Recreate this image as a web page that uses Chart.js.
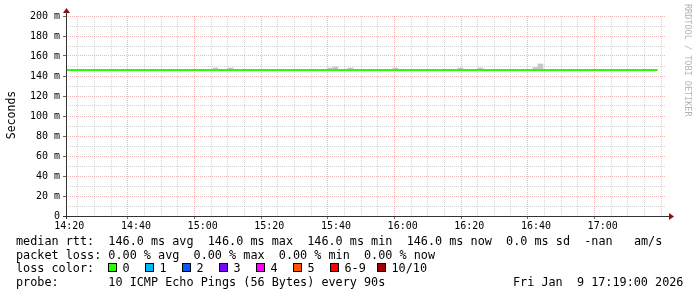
<!DOCTYPE html>
<html lang="en">
  <head>
    <meta charset="UTF-8" />
    <title>SmokePing RTT</title>
    <script src="https://cdn.jsdelivr.net/npm/chart.js"></script>
    <style>
      body {
        margin: 0;
        background: #ffffff;
      }
      #chart {
        display: block;
      }
    </style>
  </head>
  <body>
    <canvas id="chart" width="697" height="297"></canvas>

    <script>
      // time window of the graph (HH:MM:SS)
      const xStart = "14:19:00";
      const xEnd = "17:19:00";
      const xMajorLabels = ["14:20", "14:40", "15:00", "15:20", "15:40", "16:00", "16:20", "16:40", "17:00"];
      const yTickLabels = ["0", "20 m", "40 m", "60 m", "80 m", "100 m", "120 m", "140 m", "160 m", "180 m", "200 m"];

      // median rtt (ms), flat the whole time
      const medianTimes = ["14:19:00", "17:16:30"];
      const medianValues = [146, 146];

      // smoke (spread of the pings) where it shows above the median
      const smokeTimes = ["15:03:50", "15:08:20", "15:38:20", "15:39:50", "15:44:20", "15:57:50", "16:17:20", "16:23:20", "16:39:50", "16:41:20"];
      const smokeLow = [146, 146, 146, 146, 146, 146, 146, 146, 146, 146];
      const smokeHigh = [148, 148, 148, 149, 148, 148, 148, 148, 148.5, 152];

      const statsLine = "median rtt:  146.0 ms avg  146.0 ms max  146.0 ms min  146.0 ms now  0.0 ms sd  -nan   am/s";
      const lossLine = "packet loss: 0.00 % avg  0.00 % max  0.00 % min  0.00 % now";
      const lossLabels = ["0", "1", "2", "3", "4", "5", "6-9", "10/10"];
      const lossColors = ["#26ff00", "#00b8ff", "#0059ff", "#7e00ff", "#ff00ff", "#ff5500", "#ff0000", "#a10000"];
      const probeLine = "probe:       10 ICMP Echo Pings (56 Bytes) every 90s";
      const dateLine = "Fri Jan  9 17:19:00 2026";

      function toMin(s) {
        const p = s.split(":").map(Number);
        return p[0] * 60 + p[1] + (p[2] || 0) / 60;
      }

      const xMin = toMin(xStart);
      const xMax = toMin(xEnd);
      const firstMajor = toMin(xMajorLabels[0]);
      const xGridTimes = [];
      for (let t = firstMajor; t < xMax; t += 5) xGridTimes.push(t);

      const MAJOR = "rgba(222, 90, 90, 0.45)";
      const MINOR = "rgba(150, 150, 150, 0.4)";
      const MONO = "'DejaVu Sans Mono', monospace";

      const lossBoxX = [108, 145, 182, 219, 256, 293, 330, 377];

      const isMajorX = (v) => Math.abs((v - firstMajor) % 20) < 0.01;

      const extras = {
        id: "extras",
        afterDraw(chart) {
          const c = chart.ctx;
          const a = chart.chartArea;
          c.save();

          // axes
          c.strokeStyle = "#333333";
          c.lineWidth = 1;
          c.beginPath();
          c.moveTo(a.left + 0.5, a.bottom + 3);
          c.lineTo(a.left + 0.5, a.top - 4);
          c.moveTo(a.left - 3, a.bottom + 0.5);
          c.lineTo(a.right + 3, a.bottom + 0.5);
          c.stroke();

          // arrows
          c.fillStyle = "#8b1010";
          c.beginPath();
          c.moveTo(a.left + 0.5, a.top - 8);
          c.lineTo(a.left - 3, a.top - 3);
          c.lineTo(a.left + 4, a.top - 3);
          c.closePath();
          c.fill();
          c.beginPath();
          c.moveTo(a.right + 8, a.bottom + 0.5);
          c.lineTo(a.right + 3, a.bottom - 3);
          c.lineTo(a.right + 3, a.bottom + 4);
          c.closePath();
          c.fill();

          // y axis title
          c.fillStyle = "#000000";
          c.font = "11.5px " + MONO;
          c.save();
          c.translate(15, (a.top + a.bottom) / 2 - 1);
          c.rotate(-Math.PI / 2);
          c.textAlign = "center";
          c.textBaseline = "alphabetic";
          c.fillText("Seconds", 0, 0);
          c.restore();

          // watermark
          c.save();
          c.fillStyle = "#b4b4b4";
          c.font = "8.5px " + MONO;
          c.translate(685, 4);
          c.rotate(Math.PI / 2);
          c.textAlign = "left";
          c.textBaseline = "alphabetic";
          c.fillText("RRDTOOL / TOBI OETIKER", 0, 0);
          c.restore();

          // legend lines
          c.font = "11.8px " + MONO;
          c.fillStyle = "#000000";
          c.textBaseline = "alphabetic";
          c.textAlign = "left";
          const base = 245;
          const step = 13.7;
          c.fillText(statsLine, 16, base);
          c.fillText(lossLine, 16, base + step);
          c.fillText("loss color:", 16, base + step * 2);
          lossLabels.forEach((lbl, i) => {
            const bx = lossBoxX[i];
            const by = Math.round(base + step * 2 - 9);
            c.fillStyle = lossColors[i];
            c.fillRect(bx, by, 9, 9);
            c.strokeStyle = "#000000";
            c.lineWidth = 1;
            c.strokeRect(bx + 0.5, by + 0.5, 8, 8);
            c.fillStyle = "#000000";
            c.fillText(lbl, bx + 14.5, base + step * 2);
          });
          c.fillText(probeLine, 16, base + step * 3);
          c.fillText(dateLine, 513, base + step * 3);

          c.restore();
        },
      };

      const ctx = document.getElementById("chart").getContext("2d");
      new Chart(ctx, {
        type: "line",
        data: {
          datasets: [
            {
              type: "line",
              label: "median rtt",
              data: medianTimes.map((t, i) => ({ x: toMin(t), y: medianValues[i] })),
              borderColor: "#26ff00",
              borderWidth: 2,
              pointRadius: 0,
              tension: 0,
              fill: false,
            },
            {
              type: "bar",
              label: "smoke",
              data: smokeTimes.map((t, i) => ({ x: toMin(t), y: [smokeLow[i], smokeHigh[i]] })),
              backgroundColor: "#c6c6c6",
              borderWidth: 0,
              barThickness: 5,
              grouped: false,
            },
          ],
        },
        options: {
          responsive: false,
          devicePixelRatio: 1,
          animation: false,
          layout: { padding: { left: 0, top: 16, right: 31, bottom: 0 } },
          plugins: { legend: { display: false }, tooltip: { enabled: false } },
          scales: {
            x: {
              type: "linear",
              min: xMin,
              max: xMax,
              offset: false,
              afterBuildTicks: (scale) => {
                scale.ticks = xGridTimes.map((v) => ({ value: v }));
              },
              afterFit: (scale) => {
                scale.height = 81;
              },
              ticks: {
                autoSkip: false,
                maxRotation: 0,
                minRotation: 0,
                padding: 1,
                color: "#000000",
                font: { family: MONO, size: 10 },
                callback: (value) => {
                  const i = xMajorLabels.findIndex((l) => Math.abs(toMin(l) - value) < 0.01);
                  return i >= 0 ? xMajorLabels[i] : "";
                },
              },
              grid: {
                color: (c) => (c.tick && isMajorX(c.tick.value) ? MAJOR : MINOR),
                tickColor: (c) => (c.tick && isMajorX(c.tick.value) ? "#666666" : "rgba(0,0,0,0)"),
                tickLength: 3,
                lineWidth: 1,
              },
              border: { display: false, dash: [1, 1] },
            },
            y: {
              type: "linear",
              min: 0,
              max: 200,
              afterFit: (scale) => {
                scale.width = 66;
              },
              ticks: {
                stepSize: 10,
                autoSkip: false,
                padding: 3,
                color: "#000000",
                font: { family: MONO, size: 10 },
                callback: (value) => (value % 20 === 0 ? yTickLabels[value / 20] : ""),
              },
              grid: {
                color: (c) => (c.tick && c.tick.value % 20 === 0 ? MAJOR : MINOR),
                tickColor: (c) => (c.tick && c.tick.value % 20 === 0 ? "#666666" : "rgba(0,0,0,0)"),
                tickLength: 3,
                lineWidth: 1,
              },
              border: { display: false, dash: [1, 1] },
            },
          },
        },
        plugins: [extras],
      });
    </script>
  </body>
</html>
